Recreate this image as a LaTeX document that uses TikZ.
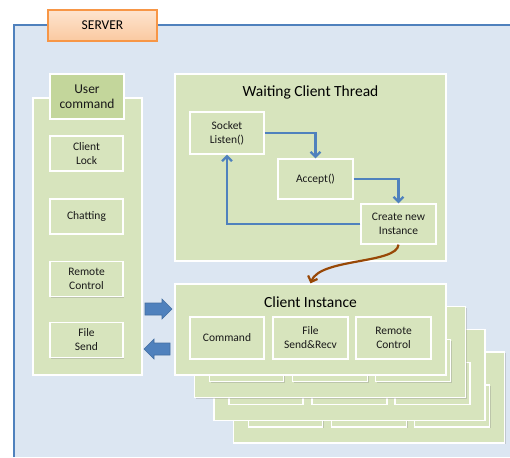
\documentclass[tikz,border=0pt]{standalone}
\usepackage{fontspec}
\setmainfont{Carlito}
\usetikzlibrary{arrows.meta,shadows}
\definecolor{srvfill}{HTML}{DCE6F2}
\definecolor{srvline}{HTML}{4F81BD}
\definecolor{gfill}{HTML}{D7E4BD}
\definecolor{ghead}{HTML}{C3D69B}
\definecolor{tabtop}{HTML}{FDE4CF}
\definecolor{tabbot}{HTML}{FAC9A0}
\definecolor{tabline}{HTML}{F79646}
\definecolor{curvebrown}{HTML}{984807}
\begin{document}
\begin{tikzpicture}[x=1pt,y=-1pt,
  gbox/.style={draw=white, line width=1.3pt, fill=gfill, inner sep=0pt, align=center,
    font=\fontsize{11.5}{14}\selectfont, text=black!90,
    drop shadow={shadow xshift=1pt, shadow yshift=-1pt, opacity=0.3}},
  small/.style={gbox, minimum width=74pt, minimum height=42pt},
  cmdbox/.style={gbox, minimum width=73pt, minimum height=35pt},
  card/.style={gbox, minimum width=271pt, minimum height=91pt},
  title/.style={font=\fontsize{15.5}{18}\selectfont, inner sep=0pt},
  flow/.style={draw=srvline, line width=2.2pt, -{Straight Barb[length=5pt,width=10pt]}},
  spawn/.style={draw=curvebrown, line width=2.2pt, -{Straight Barb[length=5pt,width=10pt]}},
  blockarrow/.style={fill=srvline, draw=srvline!85!black, line width=0.6pt}]
\useasboundingbox (0,0) rectangle (510,457);
\fill[white] (0,0) rectangle (510,457);
% server area
\fill[srvfill] (14,25) rectangle (510,457);
\draw[srvline, line width=2pt] (14,457) -- (14,25) -- (510,25);
\node[draw=tabline, line width=1.3pt, top color=tabtop, bottom color=tabbot,
  minimum width=109pt, minimum height=31pt, inner sep=0pt,
  font=\fontsize{13.5}{15}\selectfont,
  drop shadow={shadow xshift=1pt, shadow yshift=-1pt, opacity=0.3}] (server) at (102.5,25.5) {SERVER};
% user command panel
\node[gbox, minimum width=109pt, minimum height=277pt] (ucpanel) at (87.5,236.5) {};
\node[gbox, fill=ghead, minimum width=74pt, minimum height=45pt, font=\fontsize{13.5}{15.5}\selectfont] (uchead) at (87,96.5) {User\\command};
\node[cmdbox] (lock) at (86.5,153.5) {Client\\Lock};
\node[cmdbox] (chat) at (86.5,216.5) {Chatting};
\node[cmdbox] (remote) at (86.5,279) {Remote\\Control};
\node[cmdbox] (fsend) at (86.5,340) {File\\Send};
% block arrows
\filldraw[blockarrow] (145,303) -- (162,303) -- (162,299) -- (172,309) -- (162,319) -- (162,315) -- (145,315) -- cycle;
\filldraw[blockarrow] (170,343) -- (154,343) -- (154,339) -- (144,349) -- (154,359) -- (154,355) -- (170,355) -- cycle;
% waiting client thread
\node[gbox, minimum width=271pt, minimum height=187pt] (wct) at (310.5,167.5) {};
\node[title] (wcttitle) at (310.5,92) {Waiting Client Thread};
\node[small] (sock) at (227,133) {Socket\\Listen()};
\node[small, minimum width=75pt, minimum height=40pt] (acc) at (315.5,179) {Accept()};
\node[small, minimum width=75pt, minimum height=40pt] (cre) at (398.5,224) {Create new\\Instance};
\draw[flow] (sock.east) -| (acc.north);
\draw[flow] (acc.east) -| (cre.north);
\draw[flow] (cre.west) -| (sock.south);
% stacked client instances
\foreach \k in {3,2,1} {
  \node[card] (ci\k) at (310.5+19.5*\k, 329.5+22.7*\k) {};
  \node[small] (ci\k a) at (227+19.5*\k, 338+22.7*\k) {};
  \node[small, minimum width=75pt] (ci\k b) at (310.5+19.5*\k, 338+22.7*\k) {};
  \node[small, minimum width=75pt] (ci\k c) at (393.5+19.5*\k, 338+22.7*\k) {};
}
\node[card] (ci) at (310.5,329.5) {};
\node[title] (cititle) at (310.5,302) {Client Instance};
\node[small] (cmd) at (227,338) {Command};
\node[small, minimum width=75pt] (fsr) at (310.5,338) {File\\Send\&Recv};
\node[small, minimum width=75pt] (rc) at (393.5,338) {Remote\\Control};
% spawn arrow
\draw[spawn] (cre.south) .. controls (397,264) and (320,258) .. (ci.north);
\end{tikzpicture}
\end{document}
